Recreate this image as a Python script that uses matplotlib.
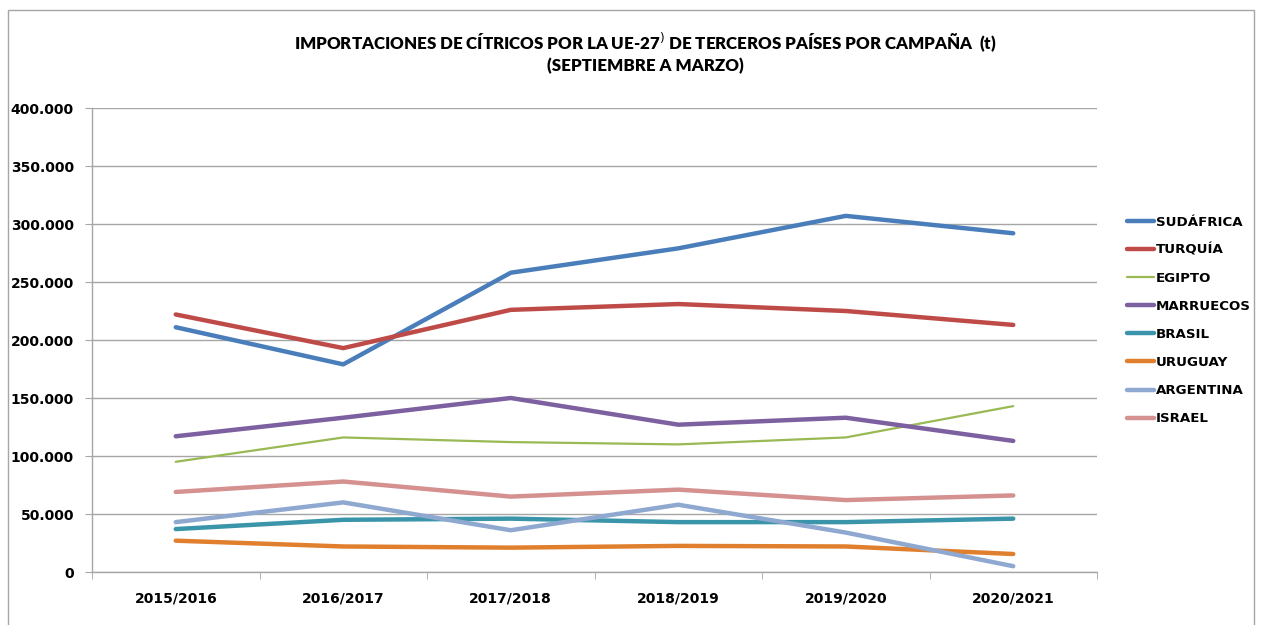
import matplotlib
matplotlib.use('Agg')
import matplotlib.pyplot as plt
from matplotlib.patches import Rectangle
from matplotlib.ticker import MultipleLocator, FuncFormatter
import numpy as np

plt.rcParams['font.family'] = ['DejaVu Sans']

campaigns = ['2015/2016', '2016/2017', '2017/2018', '2018/2019', '2019/2020', '2020/2021']

sudafrica = [211000, 179000, 258000, 279000, 307000, 292000]
turquia = [222000, 193000, 226000, 231000, 225000, 213000]
egipto = [95000, 116000, 112000, 110000, 116000, 143000]
marruecos = [117000, 133000, 150000, 127000, 133000, 113000]
brasil = [37000, 45000, 46000, 43000, 43000, 46000]
uruguay = [27000, 22000, 21000, 22500, 22000, 15500]
argentina = [43000, 60000, 36000, 58000, 34000, 5000]
israel = [69000, 78000, 65000, 71000, 62000, 66000]

series = [
    ('SUDÁFRICA', sudafrica, '#4A7EBB', 3.2),
    ('TURQUÍA', turquia, '#BE4B48', 3.2),
    ('EGIPTO', egipto, '#98B954', 1.6),
    ('MARRUECOS', marruecos, '#7D60A0', 3.2),
    ('BRASIL', brasil, '#3A95AA', 3.2),
    ('URUGUAY', uruguay, '#E0802F', 3.2),
    ('ARGENTINA', argentina, '#8EA8D0', 3.2),
    ('ISRAEL', israel, '#D59090', 3.2),
]

fig = plt.figure(figsize=(12.61, 6.25), dpi=100)
fig.patch.set_facecolor('white')

# outer chart frame
fig.add_artist(Rectangle((8 / 1261, -0.01), 1246 / 1261, 1.0 - 10 / 625 + 0.01,
                         transform=fig.transFigure, fill=False,
                         edgecolor='#A6A6A6', linewidth=1.0))

ax = fig.add_axes([92 / 1261, 53 / 625, 1005 / 1261, 464 / 625])

x = np.arange(len(campaigns))
for name, vals, color, lw in series:
    ax.plot(x, vals, color=color, linewidth=lw, label=name,
            solid_capstyle='round', solid_joinstyle='round', zorder=3)

ax.set_xlim(-0.5, len(campaigns) - 0.5)
ax.set_ylim(0, 400000)
ax.yaxis.set_major_locator(MultipleLocator(50000))
ax.yaxis.set_major_formatter(FuncFormatter(lambda v, p: f'{int(v):,}'.replace(',', '.')))
ax.grid(axis='y', color='#A6A6A6', linewidth=1.0, zorder=0)
ax.set_axisbelow(True)

ax.set_xticks(x)
ax.set_xticklabels(campaigns, fontsize=10, fontweight='bold')
ax.set_xticks(np.arange(-0.5, len(campaigns)), minor=True)
ax.tick_params(axis='x', which='major', length=0, pad=14)
ax.tick_params(axis='x', which='minor', length=5, color='#A6A6A6')
ax.tick_params(axis='y', length=5, color='#A6A6A6', labelsize=10, pad=8)
for lab in ax.get_yticklabels():
    lab.set_fontweight('bold')

for s in ['top', 'right']:
    ax.spines[s].set_visible(False)
for s in ['left', 'bottom']:
    ax.spines[s].set_color('#A6A6A6')
    ax.spines[s].set_linewidth(1.0)

title_font = ['Lato', 'DejaVu Sans']
fig.text(645.5 / 1261, 1 - 42 / 625,
         'IMPORTACIONES DE CÍTRICOS POR LA UE-27$^{)}$ DE TERCEROS PAÍSES POR CAMPAÑA  (t)',
         ha='center', va='center', fontsize=12.2, fontweight='heavy', family=title_font)
fig.text(645.5 / 1261, 1 - 66 / 625, '(SEPTIEMBRE A MARZO)',
         ha='center', va='center', fontsize=12.2, fontweight='heavy', family=title_font)

leg = ax.legend(loc='center left', bbox_to_anchor=(1.0 + 30 / 1005, 0.542), frameon=False,
                fontsize=9.6, handlelength=2.0, handletextpad=0.15,
                labelspacing=1.13, borderaxespad=0, borderpad=0)
for t in leg.get_texts():
    t.set_fontweight('bold')

fig.savefig('out.png', dpi=100, facecolor='white')
